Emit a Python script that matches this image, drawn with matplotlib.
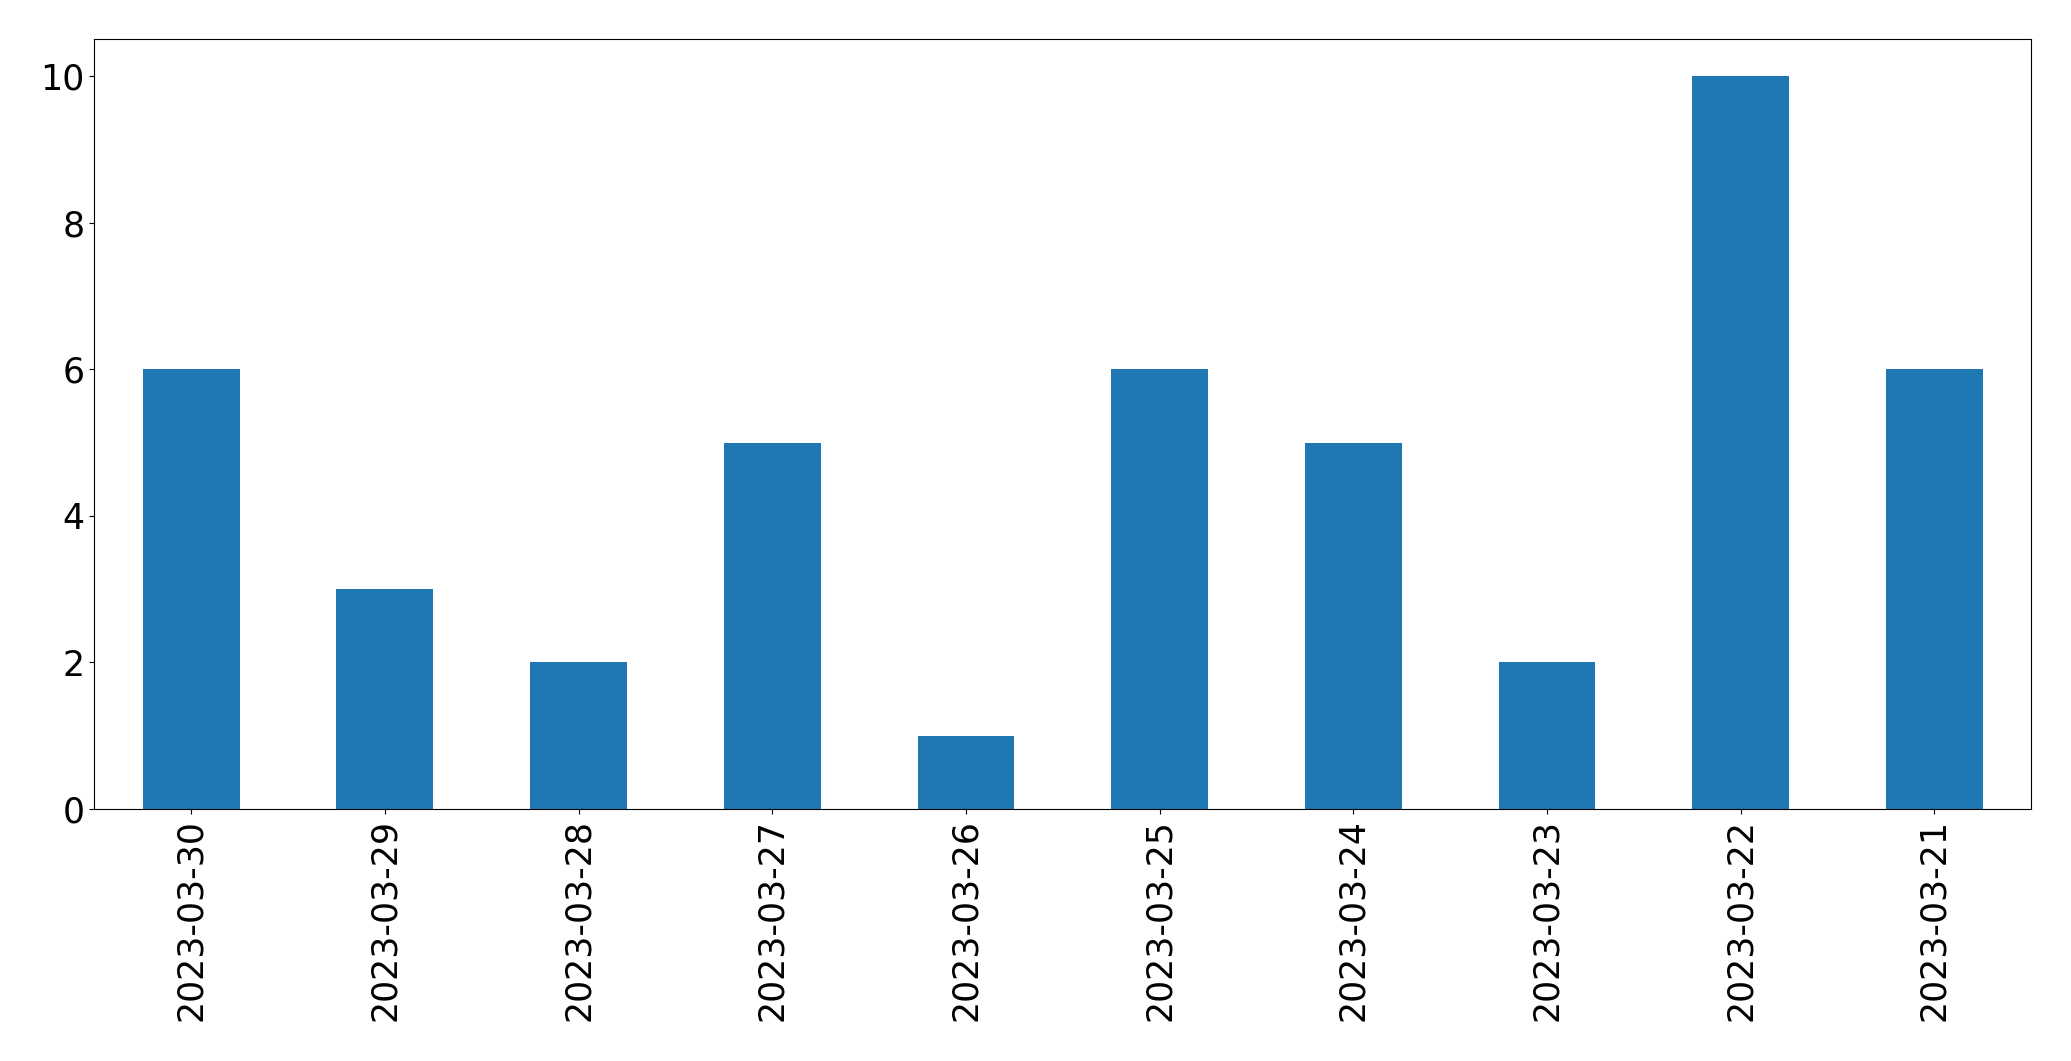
import matplotlib
matplotlib.use("Agg")
import matplotlib.pyplot as plt

dates = ["2023-03-30", "2023-03-29", "2023-03-28", "2023-03-27", "2023-03-26",
         "2023-03-25", "2023-03-24", "2023-03-23", "2023-03-22", "2023-03-21"]
counts = [6, 3, 2, 5, 1, 6, 5, 2, 10, 6]

fig = plt.figure(figsize=(20.71, 10.61), dpi=100)
ax = fig.add_axes([0.04553, 0.2375, 0.9353, 0.7254])
x = list(range(len(dates)))
ax.bar(x, counts, width=0.5, color="#1f77b4")
ax.set_xlim(-0.5, len(dates) - 0.5)
ax.set_ylim(0, 10.5)
ax.set_xticks(x)
ax.set_xticklabels(dates, rotation=90)
ax.set_yticks([0, 2, 4, 6, 8, 10])
ax.tick_params(labelsize=25)
fig.savefig("out.png", dpi=100)
